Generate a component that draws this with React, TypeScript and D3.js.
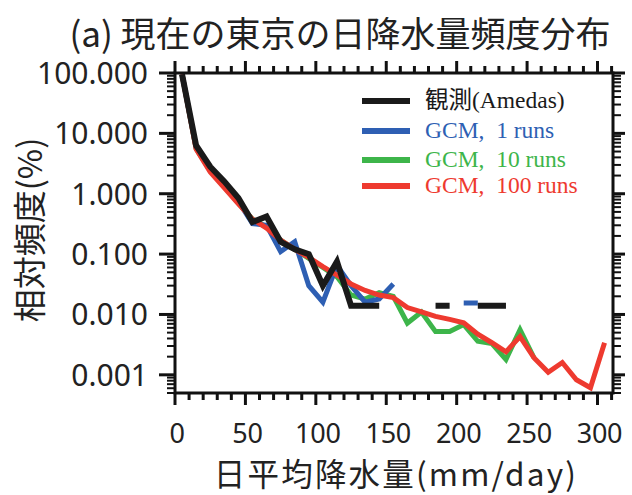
import React from 'react';
import * as d3 from 'd3';

// bin centres (mm/day)
const bins = [5, 15, 25, 35, 45, 55, 65, 75, 85, 95, 105, 115, 125, 135, 145, 155,
  165, 175, 185, 195, 205, 215, 225, 235, 245, 255, 265, 275, 285, 295, 305];

// relative frequency (%), null = no data
const obs = [95, 6.3, 2.8, 1.6, 0.85, 0.34, 0.42, 0.16, 0.12, 0.1, 0.03, 0.075, 0.014, 0.014, 0.014,
  null, null, null, 0.014, 0.014, null, 0.014, 0.014, 0.014];
const gcm1 = [95, 5.8, 2.4, 1.4, 0.75, 0.32, 0.3, 0.11, 0.16, 0.03, 0.016, 0.065, 0.03, 0.016, 0.018, 0.032,
  null, null, null, null, 0.0155, 0.0155];
const gcm10 = [95, 5.6, 2.4, 1.3, 0.7, 0.38, 0.28, 0.17, 0.12, 0.085, 0.06, 0.042, 0.021, 0.018, 0.023, 0.02,
  0.0072, 0.011, 0.0052, 0.0052, 0.0068, 0.0036, 0.0033, 0.0018, 0.0056, 0.0019];
const gcm100 = [95, 5.5, 2.3, 1.25, 0.68, 0.38, 0.27, 0.17, 0.12, 0.088, 0.062, 0.045, 0.032, 0.025, 0.021, 0.019,
  0.013, 0.011, 0.0093, 0.0083, 0.0073, 0.0047, 0.0034, 0.0024, 0.0043, 0.0019, 0.0011, 0.0016, 0.00083, 0.00061, 0.0034];

const xTicks = [0, 50, 100, 150, 200, 250, 300];
const yTicks = [100, 10, 1, 0.1, 0.01, 0.001];

const series = [
  { name: 'GCM,\u00a0\u00a01 runs', values: gcm1, color: '#2e5fb3', width: 5 },
  { name: 'GCM,\u00a0\u00a010 runs', values: gcm10, color: '#3db54a', width: 5 },
  { name: 'GCM,\u00a0\u00a0100 runs', values: gcm100, color: '#ee3a2f', width: 5 },
  { name: '観測(Amedas)', values: obs, color: '#1a1a1a', width: 6 },
];
const drawOrder = [1, 0, 2, 3];
const legendOrder = [3, 0, 1, 2];

export default function App() {
  const width = 632;
  const height = 495;
  const margin = { top: 73, right: 19, bottom: 102, left: 175 };
  const iw = width - margin.left - margin.right;
  const ih = height - margin.top - margin.bottom;

  const x = d3.scaleLinear().domain([0, 311]).range([0, iw]);
  const y = d3.scaleLog().domain([0.0005, 100]).range([ih, 0]);

  const line = d3.line<number | null>()
    .defined(d => d != null)
    .x((_, i) => x(bins[i]))
    .y(d => y(d as number));

  const xMinor = d3.range(0, 311, 10);
  const yMinor: number[] = [];
  for (let e = -4; e <= 1; e++) {
    for (let k = 2; k <= 9; k++) {
      const v = k * Math.pow(10, e);
      if (v >= 0.0005 && v <= 100) yMinor.push(v);
    }
  }
  const fmt = d3.format('.3f');
  const major = 12;
  const minor = 7;

  return (
    <svg width={width} height={height} style={{ position: 'absolute', left: 0, top: 0 }}>
      <rect width={width} height={height} fill="#fff" />
      <text x={340} y={47} textAnchor="middle" fontSize={35} fill="#222"
        fontFamily="'Noto Sans CJK JP', 'Noto Sans', sans-serif">(a) 現在の東京の日降水量頻度分布</text>

      <g transform={`translate(${margin.left},${margin.top})`}>
        <clipPath id="clip"><rect width={iw} height={ih} /></clipPath>
        <g clipPath="url(#clip)">
          {drawOrder.map(si => {
            const s = series[si];
            return (
              <path key={s.name} d={line(s.values) || ''} fill="none" stroke={s.color}
                strokeWidth={s.width} strokeLinejoin="miter" strokeLinecap="butt" />
            );
          })}
        </g>

        {/* frame */}
        <rect width={iw} height={ih} fill="none" stroke="#111" strokeWidth={3} />

        {/* x ticks, bottom and top */}
        {xMinor.map(v => {
          const len = v % 50 === 0 ? major : minor;
          return (
            <g key={'x' + v} stroke="#111" strokeWidth={3}>
              <line x1={x(v)} x2={x(v)} y1={ih} y2={ih + len} />
              <line x1={x(v)} x2={x(v)} y1={0} y2={-len} />
            </g>
          );
        })}
        {/* y ticks, left and right */}
        {yTicks.map(v => (
          <g key={'y' + v} stroke="#111" strokeWidth={3}>
            <line x1={0} x2={-major - 4} y1={y(v)} y2={y(v)} />
            <line x1={iw} x2={iw + major} y1={y(v)} y2={y(v)} />
          </g>
        ))}
        {yMinor.map(v => (
          <g key={'ym' + v} stroke="#111" strokeWidth={2}>
            <line x1={0} x2={-minor - 1} y1={y(v)} y2={y(v)} />
            <line x1={iw} x2={iw + minor + 1} y1={y(v)} y2={y(v)} />
          </g>
        ))}

        {/* tick labels */}
        {xTicks.map(v => (
          <text key={'xl' + v} x={x(v) + 2} y={ih + 50} textAnchor="middle" fontSize={27} fill="#222"
            letterSpacing={-0.3} fontFamily="'Noto Sans', sans-serif">{v}</text>
        ))}
        {yTicks.map(v => (
          <text key={'yl' + v} x={-27} y={y(v) + 11} textAnchor="end" fontSize={30} fill="#222"
            fontFamily="'Noto Sans', sans-serif">{fmt(v)}</text>
        ))}

        {/* legend */}
        {legendOrder.map((si, i) => {
          const s = series[si];
          const ly = [28, 58, 87, 113][i];
          return (
            <g key={'lg' + si}>
              <line x1={187} x2={235} y1={ly} y2={ly} stroke={s.color} strokeWidth={6} />
              <text x={250} y={ly + 7} fontSize={23.5} fill={s.color}
                fontFamily="'Liberation Serif', 'Noto Sans CJK JP', serif">{s.name}</text>
            </g>
          );
        })}
      </g>

      <text x={396} y={486} textAnchor="middle" fontSize={31.5} fill="#222" letterSpacing={2.2}
        fontFamily="'Noto Sans CJK JP', 'Noto Sans', sans-serif">日平均降水量(mm/day)</text>
      <text transform="translate(42,230) rotate(-90)" textAnchor="middle" fontSize={33} fill="#222"
        fontFamily="'Noto Sans CJK JP', 'Noto Sans', sans-serif">相対頻度(%)</text>
    </svg>
  );
}
